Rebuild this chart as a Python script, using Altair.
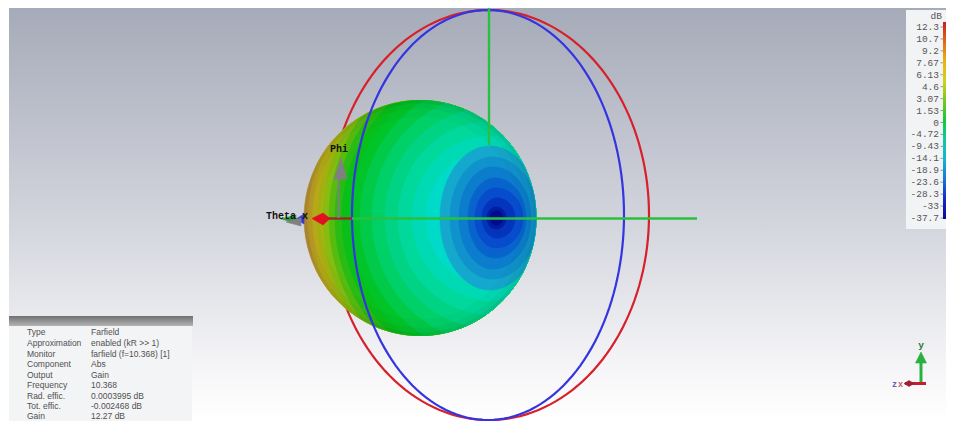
import numpy as np
import altair as alt

# ---- scale bar ----
BAR_LABELS = ["12.3","10.7","9.2","7.67","6.13","4.6","3.07","1.53","0","-4.72","-9.43","-14.1","-18.9","-23.6","-28.3","-33","-37.7"]
BAR_STOPS = ["#c81e1e","#e06a14","#e8b414","#d2d214","#78c81e","#14c83c","#14c8a0","#14b4d2","#1478d2","#1428c8","#0a0a96"]

# ---- info box ----
INFO_KEYS = ["Type","Approximation","Monitor","Component","Output","Frequency","Rad. effic.","Tot. effic.","Gain"]
INFO_VALS = ["Farfield","enabled (kR >> 1)","farfield (f=10.368) [1]","Abs","Gain","10.368","0.0003995 dB","-0.002468 dB","12.27 dB"]
INFO_ROWS = [332,343,354,364,375,385,396,406,416]

# ---- pattern contours, read along the picture's mid row ----
SPHERE = (420, 218, 116, 117.5)
BASE_COLOR = "#c09230"
BAND_LEFT = [309,313,318,323,329,335,342,350,360,372,385,398,412,426]
BAND_COLOR = ["#c0a024","#bcac18","#a8b410","#88bc10","#58bc10","#28bc14","#08c018","#00c428","#00ca48","#00d068","#00d484","#00d89c","#00dab4","#00dac8"]
# null-region contours: centre x, left reach, right reach, half height
NULL_CX = [490,492,493,495,496,497,496,496]
NULL_L  = [50,42,34,27,21,15,9,6]
NULL_R  = [50,46,38,31,27,18,10,7]
NULL_B  = [72,61,51,40,30,20,11,7]
NULL_COLOR = ["#14a8cc","#1092cc","#0c7ccc","#0864cc","#064ccc","#0434bc","#021ca4","#010c8c"]

X = alt.X("x:Q", scale=alt.Scale(domain=[8,946]), axis=None)
Y = alt.Y("y:Q", scale=alt.Scale(domain=[8,421], reverse=True), axis=None)
X2 = alt.X2("x2:Q"); Y2 = alt.Y2("y2:Q")

def rect(x0,x1,y0,y1,fill):
    return alt.Chart(alt.Data(values=[{"x":x0,"x2":x1,"y":y0,"y2":y1}])).mark_rect(color=fill).encode(x=X,x2=X2,y=Y,y2=Y2)

def vgrad(stops):
    return alt.Gradient(gradient="linear",x1=0,x2=0,y1=0,y2=1,
        stops=[alt.GradientStop(offset=o,color=c) for o,c in stops])

def poly(xs,ys,fill,sw=0.6):
    vals=[{"x":float(a),"y":float(b),"i":i} for i,(a,b) in enumerate(zip(xs,ys))]
    vals.append(dict(vals[0],i=len(vals)))
    return alt.Chart(alt.Data(values=vals)).mark_line(filled=True,fill=fill,stroke=fill,strokeWidth=sw).encode(x=X,y=Y,order="i:Q")

def seg(xs,ys,color,w,op=1):
    vals=[{"x":float(a),"y":float(b),"i":i} for i,(a,b) in enumerate(zip(xs,ys))]
    return alt.Chart(alt.Data(values=vals)).mark_line(color=color,strokeWidth=w,opacity=op).encode(x=X,y=Y,order="i:Q")

def text(x,y,t,size,color,font,align="left",weight="normal",op=1):
    return alt.Chart(alt.Data(values=[{"x":x,"y":y,"t":t}])).mark_text(
        align=align,baseline="middle",fontSize=size,color=color,font=font,fontWeight=weight,opacity=op
    ).encode(x=X,y=Y,text="t:N")

def clipped(cx,aL,aR,b,cy=218):
    th=np.linspace(0,2*np.pi,241)[:-1]
    c,s=np.cos(th),np.sin(th)
    a=np.where(c<0,aL,aR)
    r1=1/np.sqrt((c/a)**2+(s/b)**2)
    sx,sy,rx,ry=SPHERE
    dx,dy=cx-sx,cy-sy
    A=(c/rx)**2+(s/ry)**2
    B=2*(dx*c/rx**2+dy*s/ry**2)
    C=(dx/rx)**2+(dy/ry)**2-1
    r2=(-B+np.sqrt(B*B-4*A*C))/(2*A)
    r=np.minimum(r1,r2)
    return cx+r*c,cy+r*s

def ring(cx,cy,rx,ry):
    th=np.linspace(0,2*np.pi,161)
    return cx+rx*np.cos(th),cy+ry*np.sin(th)

L=[]
# window background
L.append(rect(9,946,8,421,vgrad([(0,"#a6abb9"),(0.52,"#d3d5dd"),(0.88,"#f6f6f8"),(1,"#ffffff")])))
# back ring
L.append(seg(*ring(489,215,160,205),"#d8202c",2.2))
# pattern
L.append(poly(*clipped(490,400,400,400),BASE_COLOR))
for x0,col in zip(BAND_LEFT,BAND_COLOR):
    a=490-x0
    L.append(poly(*clipped(490,a,a,1.05*a),col))
for cx,aL,aR,b,col in zip(NULL_CX,NULL_L,NULL_R,NULL_B,NULL_COLOR):
    L.append(poly(*clipped(cx,aL,aR,b),col))
# limb shading
sx,sy,rx,ry=SPHERE
for inset,w,op in [(1.5,3,0.06),(4,8,0.04),(8,16,0.03)]:
    L.append(seg(*ring(sx,sy,rx-inset,ry-inset),"#003020",w,op))
# front ring and axes
L.append(seg(*ring(488,215,136,205),"#3434e0",2.2))
L.append(seg([489,489],[8,145],"#28c040",2.4))
L.append(seg([352,697],[218.5,218.5],"#28c040",2.4))
L.append(seg([328,352],[218.5,218.5],"#a02828",2.4))
# Phi arrow
L.append(seg([338.5,338.5],[218,176],"#808080",2))
L.append(poly([341,334,347],[158,179,179],"#808080"))
L.append(text(339,149,"Phi",10,"#111111","Liberation Mono","center","bold"))
# Theta arrow cluster
L.append(poly([296,304,304],[219,214,224],"#3a3ad8"))
L.append(poly([281,296,296],[219,215,223],"#28a040"))
L.append(poly([286,301,301],[222,218,226],"#808080"))
L.append(poly([312,323,330,323],[218.5,213,218.5,225],"#e01020"))
L.append(text(266,216,"Theta",10,"#111111","Liberation Mono","left","bold"))
L.append(text(305,216,"x",10,"#111111","Liberation Mono","center","bold"))
# scale panel
L.append(rect(906,946,10,229,"#f2f3f4"))
L.append(rect(943,946,22,219,vgrad(list(zip(np.linspace(0,1,len(BAR_STOPS)).tolist(),BAR_STOPS)))))
L.append(text(942,16,"dB",9.5,"#555555","Liberation Mono","right"))
for i,t in enumerate(BAR_LABELS):
    yy=27+i*191/16
    L.append(text(939,yy,t,9.5,"#555555","Liberation Mono","right"))
    L.append(seg([940.5,943],[yy,yy],"#999999",1))
# info panel
L.append(rect(9,192,316,421,"#f3f4f5"))
L.append(rect(9,193,316,326,vgrad([(0,"#707070"),(1,"#b4b4b4")])))
for k,v,yy in zip(INFO_KEYS,INFO_VALS,INFO_ROWS):
    L.append(text(27,yy,k,8.5,"#505050","Liberation Sans"))
    L.append(text(91,yy,v,8.5,"#505050","Liberation Sans"))
# small triad
L.append(seg([921,921],[384,360],"#28b040",3))
L.append(poly([921,915.5,926.5],[352,363,363],"#28b040"))
L.append(seg([905,926],[383.5,383.5],"#c02030",3))
L.append(poly([904,909,914,909],[383.5,380.5,383.5,386.5],"#a02030"))
L.append(text(921,345,"y",9.5,"#227733","Liberation Mono","center","bold"))
L.append(text(892,384,"z",8.5,"#6060c0","Liberation Mono","left","bold"))
L.append(text(898,384,"x",8.5,"#c06060","Liberation Mono","left","bold"))

chart=alt.layer(*L).properties(width=938,height=413,padding=0,autosize=alt.AutoSizeParams(type="none"),background="white").configure_view(stroke=None)
chart.save("out.html",embed_options={"renderer":"svg","actions":False})
